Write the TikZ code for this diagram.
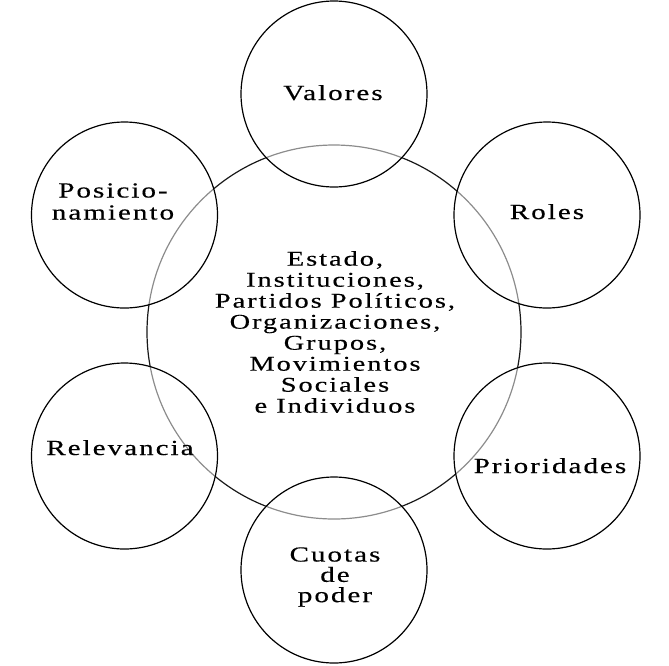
\documentclass[tikz,border=0pt]{standalone}
\usepackage{fontspec}
\setmainfont{Liberation Serif}[LetterSpace=7,FakeBold=0.35]
\begin{document}
\begin{tikzpicture}[x=1pt,y=-1pt,
  ring/.style={circle, draw=black, line width=1.2pt, fill=white, fill opacity=0.5, minimum size=186pt, inner sep=0pt},
  hub/.style={circle, draw=black!90, line width=1.2pt, minimum size=374pt, inner sep=0pt},
  wide/.style={xscale=1.35, transform shape},
  lbl/.style={wide, text=black, font=\fontsize{21.5}{22}\selectfont, align=center, inner sep=0pt},
  hublbl/.style={wide, text=black, font=\fontsize{21}{21}\selectfont, align=center, inner sep=0pt}]
\useasboundingbox (0,0) rectangle (669,665);
% central circle
\node[hub] (hub) at (334,332) {};
% outer circles
\node[ring] (cval) at (334,94) {};
\node[ring] (crol) at (547,215) {};
\node[ring] (cpri) at (547,456) {};
\node[ring] (ccuo) at (334,570) {};
\node[ring] (crel) at (124.5,456) {};
\node[ring] (cpos) at (124.5,215) {};
% labels
\begin{scope}[shift={(335,332)}]
\node[hublbl] (thub) at (0,0) {Estado,\\Instituciones,\\Partidos Políticos,\\Organizaciones,\\Grupos,\\Movimientos\\Sociales\\e Individuos};
\end{scope}
\begin{scope}[shift={(333,100)}]
\node[lbl, anchor=base] (tval) at (0,0) {Valores};
\end{scope}
\begin{scope}[shift={(547,219)}]
\node[lbl, anchor=base] (trol) at (0,0) {Roles};
\end{scope}
\begin{scope}[shift={(550,473)}]
\node[lbl, anchor=base] (tpri) at (0,0) {Prioridades};
\end{scope}
\begin{scope}[shift={(120,455)}]
\node[lbl, anchor=base] (trel) at (0,0) {Relevancia};
\end{scope}
\begin{scope}[shift={(113,201.5)}]
\node[lbl] (tpos) at (0,0) {Posicio-\\namiento};
\end{scope}
\begin{scope}[shift={(335,577)}]
\node[lbl, font=\fontsize{21.5}{20.3}\selectfont] (tcuo) at (0,0) {Cuotas\\de\\poder};
\end{scope}
\end{tikzpicture}
\end{document}
